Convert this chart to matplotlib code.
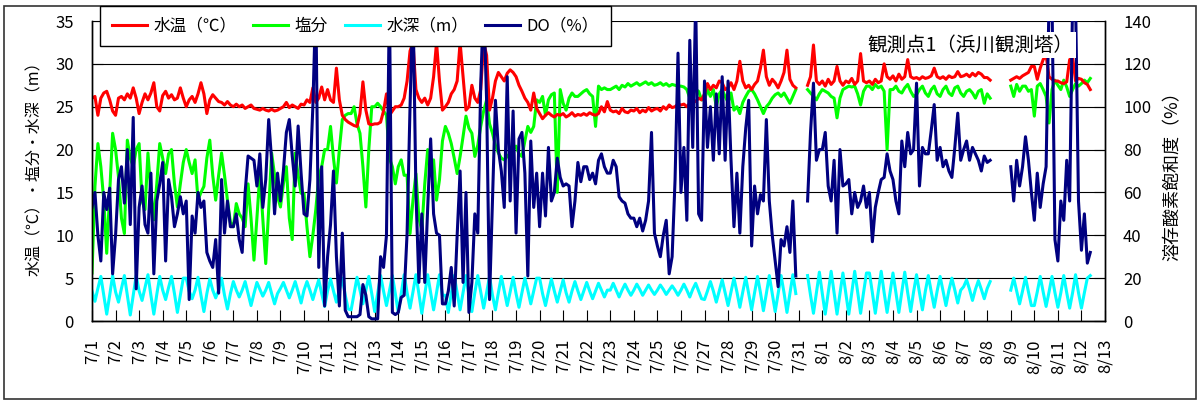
"""Hamakawa tower (station 1): temperature / salinity / depth / DO, 7/1-8/12.

Values read off the original chart at 3-hour steps (8 per day).
"""
import numpy as np
import matplotlib.pyplot as plt
from matplotlib.patches import Rectangle

plt.rcParams['font.family'] = ['Noto Sans CJK JP', 'DejaVu Sans']

NA = np.nan
STEPS_PER_DAY = 8

DAY_LABELS = [f'7/{d}' for d in range(1, 32)] + [f'8/{d}' for d in range(1, 14)]

# water temperature (degC), one row per day
temp_c = [
    [26.0, 26.2, 24.0, 26.0, 26.6, 26.8, 25.8, 24.5],
    [24.0, 26.0, 26.2, 25.8, 26.5, 26.0, 27.2, 26.0],
    [24.2, 25.5, 26.5, 25.8, 26.6, 27.8, 25.0, 24.5],
    [26.3, 26.8, 26.0, 26.4, 25.8, 26.0, 27.2, 26.0],
    [25.0, 25.8, 26.2, 25.5, 26.5, 27.8, 26.5, 24.2],
    [25.8, 26.4, 26.0, 25.6, 25.5, 25.2, 25.6, 25.2],
    [25.0, 25.3, 25.0, 25.2, 24.8, 25.0, 25.2, 24.8],
    [24.7, 24.6, 24.8, 24.6, 24.5, 24.7, 24.5, 24.6],
    [24.8, 25.0, 25.5, 24.9, 25.2, 25.0, 24.8, 25.3],
    [25.2, 25.8, 25.5, 27.2, 25.5, 26.0, 27.3, 25.8],
    [27.0, 25.8, 25.5, 29.5, 25.8, 24.0, 23.5, 23.2],
    [23.0, 22.8, 22.7, 24.2, 27.9, 24.6, 23.0, 22.9],
    [23.0, 23.0, 23.2, 24.5, 26.5, 24.0, 24.5, 25.0],
    [25.0, 25.2, 26.0, 28.0, 31.5, 32.5, 27.0, 26.0],
    [25.5, 26.0, 25.2, 26.0, 28.5, 32.5, 28.0, 24.6],
    [25.0, 25.5, 26.5, 27.0, 28.0, 32.5, 28.5, 24.6],
    [25.0, 27.5, 26.0, 25.5, 27.0, 32.5, 31.0, 24.6],
    [26.0, 28.0, 29.0, 28.5, 28.0, 28.9, 29.3, 29.0],
    [28.5, 27.5, 26.8, 26.0, 25.5, 24.6, 26.6, 24.8],
    [24.2, 23.6, 24.0, 24.3, 24.0, 23.8, 24.1, 24.0],
    [24.2, 23.8, 24.0, 24.3, 23.9, 24.1, 24.0, 24.2],
    [24.0, 24.3, 24.1, 24.0, 24.2, 25.0, 24.4, 25.6],
    [24.6, 24.4, 24.5, 24.2, 24.8, 24.4, 24.3, 24.6],
    [24.5, 24.8, 24.3, 24.6, 24.4, 24.9, 24.5, 24.7],
    [24.8, 24.5, 25.0, 24.7, 25.2, 24.9, 25.0, 25.3],
    [25.2, 25.3, 25.0, 25.4, 25.8, 25.6, 26.0, 25.8],
    [26.5, 27.7, 27.0, 27.5, 27.2, 28.0, 27.8, 27.0],
    [27.2, 27.8, 27.0, 28.0, 30.3, 28.0, 27.2, 27.5],
    [27.0, 27.6, 28.0, 29.5, 31.6, 28.5, 27.5, 28.2],
    [27.8, 27.2, 28.0, 29.0, 31.6, 28.2, 27.5, 27.2],
    [NA, NA, NA, 27.5, 28.5, 32.2, 28.0, 27.6],
    [28.0, 27.4, 28.2, 27.6, 28.0, 29.7, 28.0, 27.5],
    [28.0, 27.8, 28.3, 27.6, 28.0, 31.2, 28.0, 27.8],
    [28.0, 27.6, 28.2, 27.8, 28.0, 30.0, 28.5, 28.2],
    [28.6, 28.0, 28.8, 28.2, 28.5, 30.5, 28.5, 28.3],
    [28.4, 28.2, 28.5, 28.3, 28.4, 28.6, 29.5, 28.5],
    [28.3, 28.5, 28.2, 28.6, 28.4, 28.5, 29.1, 28.5],
    [28.6, 28.8, 28.5, 28.9, 28.6, 29.0, 28.8, 28.4],
    [28.4, 28.1, NA, NA, NA, NA, NA, NA],
    [28.1, 28.3, 28.5, 28.3, 28.6, 28.8, 29.0, 29.7],
    [29.7, 28.2, 29.5, 30.5, 31.0, 28.5, 28.2, 28.0],
    [28.0, 27.8, 27.7, 27.9, 30.5, 30.8, 28.0, 28.3],
    [28.2, 27.8, 27.6, 27.0, NA, NA, NA, NA],
]

# salinity
salinity = [
    [5.6, 15.7, 20.7, 18.0, 14.1, 7.9, 15.0, 21.9],
    [20.0, 16.8, 12.0, 10.2, 21.1, 19.0, 18.0, 20.0],
    [20.7, 14.0, 13.0, 19.6, 15.0, 11.8, 16.0, 20.7],
    [19.0, 17.2, 19.5, 20.0, 16.0, 13.3, 16.0, 18.5],
    [20.0, 18.5, 17.2, 18.8, 14.1, 15.0, 15.7, 19.0],
    [21.1, 17.0, 14.1, 17.0, 19.6, 17.0, 14.1, 11.5],
    [11.0, 13.7, 12.5, 12.0, 11.0, 16.0, 12.0, 7.1],
    [12.0, 17.2, 12.0, 6.7, 13.0, 19.6, 17.0, 14.5],
    [13.3, 16.0, 18.0, 12.0, 9.5, 19.6, 17.0, 14.9],
    [14.9, 11.0, 7.5, 10.0, 13.0, 16.8, 18.0, 20.0],
    [20.0, 22.7, 19.0, 16.1, 20.0, 23.5, 24.0, 24.2],
    [24.2, 25.0, 23.0, 21.9, 18.0, 13.3, 20.0, 25.0],
    [25.0, 25.4, 25.0, 24.5, 24.0, 19.0, 18.0, 16.0],
    [18.0, 18.8, 17.0, 17.0, 10.2, 14.1, 17.2, 12.0],
    [10.6, 16.0, 20.0, 17.2, 18.8, 14.1, 16.5, 21.0],
    [22.7, 21.9, 20.7, 19.0, 17.2, 19.2, 21.5, 23.9],
    [22.5, 21.9, 19.2, 20.5, 22.7, 24.5, 25.8, 23.0],
    [21.9, 20.5, 19.6, 19.0, 18.8, 19.2, 19.6, 20.0],
    [20.4, 19.5, 19.2, 21.0, 22.7, 22.0, 22.7, 25.8],
    [25.5, 26.2, 24.0, 25.8, 26.4, 26.6, 15.0, 27.0],
    [25.4, 24.6, 26.0, 26.6, 26.2, 26.2, 26.5, 26.8],
    [27.0, 26.5, 26.2, 22.7, 27.4, 27.0, 27.2, 27.0],
    [27.0, 27.2, 27.4, 27.0, 27.5, 27.3, 27.7, 27.4],
    [27.6, 27.8, 27.5, 27.7, 27.9, 27.6, 27.8, 27.5],
    [27.6, 27.8, 27.5, 27.7, 27.4, 27.6, 27.5, 27.4],
    [27.4, 27.3, 27.0, 26.0, 26.5, 27.0, 26.8, 25.8],
    [25.8, 27.0, 26.2, 27.0, 25.0, 26.5, 27.0, 26.2],
    [25.5, 26.6, 24.6, 25.0, 24.2, 25.5, 26.2, 26.8],
    [27.0, 26.5, 25.8, 25.0, 24.2, 25.0, 25.4, 26.0],
    [26.4, 26.6, 26.2, 26.6, 26.0, 25.4, 26.2, 27.0],
    [NA, NA, NA, 27.0, 26.6, 26.2, 25.8, 26.5],
    [27.0, 26.8, 26.6, 26.2, 26.0, 23.7, 26.0, 27.0],
    [27.2, 27.4, 27.3, 27.4, 26.5, 25.2, 26.8, 27.4],
    [27.4, 27.0, 27.6, 27.2, 27.4, 26.8, 20.0, 27.0],
    [27.0, 27.4, 26.8, 26.6, 27.2, 27.6, 26.8, 26.2],
    [26.4, 27.0, 27.4, 26.6, 26.2, 27.0, 27.4, 26.5],
    [26.2, 27.0, 27.4, 26.6, 26.3, 27.2, 27.4, 26.6],
    [26.2, 26.8, 27.0, 26.6, 26.0, 26.8, 27.0, 25.4],
    [26.5, 26.0, NA, NA, NA, NA, NA, NA],
    [27.4, 26.2, 27.6, 26.8, 27.4, 27.4, 26.8, 27.0],
    [23.9, 27.4, 27.7, 27.0, 26.2, 23.1, 27.0, 28.1],
    [27.5, 27.0, 28.1, 27.3, 26.2, 27.0, 27.7, 27.4],
    [27.7, 28.1, 27.8, 28.3, NA, NA, NA, NA],
]

# water depth (m)
depth_m = [
    [3.5, 2.3, 3.8, 5.2, 3.0, 0.8, 3.0, 5.3],
    [3.4, 2.2, 3.8, 5.3, 3.0, 0.7, 3.0, 5.3],
    [3.5, 2.4, 3.9, 5.4, 3.0, 0.8, 3.1, 5.2],
    [3.6, 2.5, 3.9, 5.2, 3.2, 1.0, 3.0, 5.0],
    [5.0, 3.5, 2.6, 3.6, 5.1, 3.0, 1.1, 3.2],
    [4.9, 3.6, 2.7, 3.6, 5.0, 3.0, 1.4, 3.2],
    [4.6, 3.6, 2.8, 3.6, 4.6, 3.2, 1.8, 3.2],
    [4.5, 3.7, 2.9, 3.6, 4.5, 3.2, 2.0, 3.2],
    [3.8, 4.5, 3.6, 2.7, 3.6, 4.6, 3.4, 2.1],
    [3.6, 4.6, 3.6, 2.5, 3.7, 4.8, 3.2, 1.7],
    [3.5, 4.9, 3.5, 2.2, 3.7, 5.0, 3.0, 1.4],
    [1.3, 3.2, 5.1, 3.6, 2.0, 3.6, 5.2, 3.2],
    [1.1, 3.2, 5.3, 3.5, 1.8, 3.5, 5.3, 3.2],
    [1.0, 3.2, 5.4, 3.3, 1.5, 3.4, 5.4, 3.2],
    [0.9, 3.1, 5.4, 3.3, 1.3, 3.3, 5.4, 3.0],
    [3.0, 1.0, 3.2, 5.3, 3.3, 1.3, 3.3, 5.3],
    [3.0, 1.1, 3.3, 5.3, 3.4, 1.5, 3.3, 5.2],
    [3.0, 1.3, 3.3, 5.2, 3.5, 1.8, 3.4, 5.1],
    [3.2, 1.6, 3.3, 5.0, 3.6, 2.0, 3.5, 5.0],
    [5.0, 3.2, 1.8, 3.4, 4.9, 3.5, 2.2, 3.5],
    [4.8, 3.3, 2.2, 3.5, 4.6, 3.5, 2.5, 3.5],
    [4.5, 3.5, 2.6, 3.5, 4.4, 3.6, 2.8, 3.6],
    [3.6, 4.4, 3.6, 2.8, 3.6, 4.3, 3.6, 3.0],
    [3.6, 4.3, 3.7, 3.0, 3.6, 4.2, 3.6, 3.1],
    [3.6, 4.2, 3.7, 3.1, 3.6, 4.1, 3.6, 3.0],
    [3.6, 4.3, 3.6, 2.8, 3.7, 4.4, 3.5, 2.6],
    [2.5, 3.5, 4.6, 3.5, 2.2, 3.5, 4.8, 3.3],
    [1.8, 3.4, 5.0, 3.4, 1.6, 3.4, 5.1, 3.2],
    [1.3, 3.3, 5.2, 3.3, 1.2, 3.2, 5.3, 3.2],
    [1.1, 3.2, 5.3, 3.3, 1.0, 3.2, 5.4, 3.2],
    [NA, NA, NA, 5.3, 3.0, 0.9, 3.3, 5.7],
    [3.2, 0.8, 3.3, 5.8, 3.3, 0.8, 3.2, 5.6],
    [3.2, 0.8, 3.3, 5.8, 3.4, 0.9, 3.3, 5.6],
    [5.6, 3.3, 0.9, 3.4, 5.8, 3.3, 1.0, 3.3],
    [5.6, 3.3, 1.0, 3.4, 5.7, 3.3, 1.1, 3.4],
    [5.4, 3.3, 1.3, 3.5, 5.3, 3.4, 1.6, 3.5],
    [5.2, 3.5, 1.8, 3.6, 5.0, 3.6, 2.1, 3.6],
    [4.0, 4.8, 3.7, 2.4, 3.7, 4.7, 3.7, 2.6],
    [3.8, 4.6, NA, NA, NA, NA, NA, NA],
    [3.6, 5.0, 3.5, 2.0, 3.5, 5.1, 3.4, 1.8],
    [1.8, 3.4, 5.2, 3.4, 1.7, 3.4, 5.2, 3.3],
    [1.6, 3.3, 5.3, 3.3, 1.5, 3.3, 5.4, 3.3],
    [1.5, 3.3, 5.0, 5.3, NA, NA, NA, NA],
]

# dissolved oxygen saturation (%)
do_pct = [
    [53, 60, 40, 28, 60, 52, 62, 22],
    [40, 66, 72, 55, 80, 45, 95, 15],
    [53, 63, 45, 41, 69, 22, 56, 64],
    [74, 28, 66, 58, 44, 50, 58, 50],
    [56, 10, 49, 41, 60, 53, 56, 32],
    [28, 25, 38, 13, 66, 41, 56, 44],
    [44, 50, 38, 32, 60, 77, 76, 75],
    [63, 78, 53, 66, 94, 75, 50, 69],
    [56, 70, 88, 94, 77, 63, 91, 69],
    [50, 49, 66, 100, 150, 25, 72, 7],
    [30, 45, 70, 30, 7, 41, 5, 2],
    [2, 2, 2, 3, 17, 12, 2, 1],
    [1, 1, 30, 25, 40, 150, 4, 3],
    [4, 11, 12, 41, 100, 150, 60, 18],
    [50, 18, 53, 85, 50, 41, 40, 8],
    [8, 14, 25, 7, 40, 70, 18, 60],
    [4, 18, 50, 41, 110, 150, 103, 10],
    [56, 103, 80, 70, 53, 114, 56, 98],
    [41, 85, 88, 69, 21, 84, 53, 69],
    [44, 69, 49, 81, 56, 60, 76, 67],
    [63, 64, 63, 44, 56, 74, 65, 72],
    [72, 66, 69, 64, 75, 78, 72, 69],
    [69, 75, 72, 58, 56, 55, 50, 48],
    [48, 44, 48, 42, 47, 56, 88, 41],
    [35, 30, 40, 47, 22, 30, 66, 125],
    [60, 81, 47, 131, 81, 150, 50, 47],
    [112, 81, 100, 75, 106, 78, 114, 75],
    [112, 75, 44, 69, 41, 72, 90, 103],
    [35, 63, 50, 59, 56, 94, 56, 40],
    [28, 16, 38, 35, 44, 32, 56, 21],
    [NA, NA, NA, 56, 88, 111, 75, 80],
    [80, 88, 63, 56, 75, 41, 80, 63],
    [64, 66, 50, 60, 53, 56, 63, 53],
    [60, 37, 53, 60, 66, 67, 78, 70],
    [66, 56, 50, 84, 72, 88, 78, 80],
    [111, 63, 81, 78, 78, 89, 101, 75],
    [81, 72, 75, 70, 67, 81, 97, 75],
    [80, 84, 75, 81, 78, 75, 70, 77],
    [74, 75, NA, NA, NA, NA, NA, NA],
    [72, 56, 75, 63, 72, 86, 75, 60],
    [47, 69, 53, 64, 72, 150, 150, 38],
    [28, 56, 47, 75, 56, 150, 150, 56],
    [33, 50, 27, 32, NA, NA, NA, NA],
]


def flat(rows):
    return np.array(rows, dtype=float).ravel()


temp = flat(temp_c)
sal = flat(salinity)
depth = flat(depth_m)
do = flat(do_pct)
t = np.arange(len(temp)) / STEPS_PER_DAY   # days since 7/1 00:00

W, H = 1198, 401
fig = plt.figure(figsize=(W / 100, H / 100), dpi=100)
ax = fig.add_axes([92 / W, 1 - 321 / H, (1105 - 92) / W, 300 / H])
ax2 = ax.twinx()

lw = 2.2
l_dep, = ax.plot(t, depth, color='#00ffff', lw=lw)
l_sal, = ax.plot(t, sal, color='#00ff00', lw=lw)
l_tmp, = ax.plot(t, temp, color='#ff0000', lw=lw)
l_do, = ax2.plot(t, do, color='#000080', lw=lw)

ax.set_xlim(0, len(DAY_LABELS) - 1)
ax.set_ylim(0, 35)
ax2.set_ylim(0, 140)
ax.set_yticks(range(0, 36, 5))
ax2.set_yticks(range(0, 141, 20))
ax.set_xticks(range(len(DAY_LABELS)))
ax.set_xticklabels(DAY_LABELS, rotation=90)
ax.yaxis.grid(True, color='black', lw=0.8)

for a in (ax, ax2):
    a.spines['top'].set_visible(False)
    for s in a.spines.values():
        s.set_color('black')
        s.set_linewidth(1.0)
ax.tick_params(axis='both', direction='in', length=8, labelsize=12, pad=13)
ax2.tick_params(axis='y', direction='in', length=8, labelsize=12, pad=13)

fig.text(35 / W, 1 - 165 / H, '水温（℃）・塩分・水深（m）', rotation=90,
         ha='center', va='center', fontsize=11.5)
fig.text(1173 / W, 1 - 172 / H, '溶存酸素飽和度（%）', rotation=90,
         ha='center', va='center', fontsize=13)

ax2.text(970 / W, 1 - 45 / H, '観測点1（浜川観測塔）', transform=fig.transFigure,
         ha='center', va='center', fontsize=14, zorder=10,
         bbox=dict(facecolor='white', edgecolor='none', pad=2))

fig.legend([l_tmp, l_sal, l_dep, l_do], ['水温（℃）', '塩分', '水深（m）', 'DO（%）'],
           loc='upper left', bbox_to_anchor=(100 / W, 1 - 6 / H), ncol=4,
           fontsize=12, frameon=True, fancybox=False, edgecolor='black',
           framealpha=1, borderaxespad=0, handlelength=2.1, handletextpad=0.4,
           columnspacing=1.0, borderpad=0.7)

fig.patches.append(Rectangle((4 / W, 1 - 399 / H), 1192 / W, 393 / H,
                             transform=fig.transFigure, fill=False,
                             edgecolor='#333333', lw=1.2))

fig.savefig('out.png', dpi=100)
